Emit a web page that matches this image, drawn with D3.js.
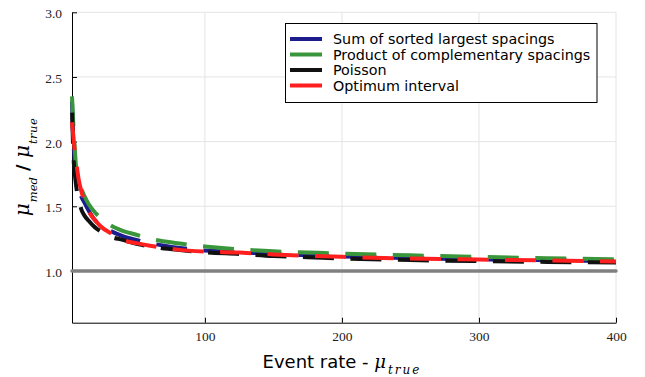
<!DOCTYPE html>
<html>
<head>
<meta charset="utf-8">
<script src="https://cdn.jsdelivr.net/npm/d3@7"></script>
<style>
  html, body { margin: 0; padding: 0; background: #fff; }
  svg { display: block; }
</style>
</head>
<body>
<svg id="chart" width="645" height="377"></svg>
<script>
// ---- data ----
const eventRates = [3, 4, 5, 6, 8, 10, 12, 15, 20, 25, 30, 40, 50, 60, 80, 100, 125, 150, 175, 200, 250, 300, 350, 400];
const sumSortedLargest = [2.31, 2.00, 1.86, 1.76, 1.63, 1.57, 1.53, 1.47, 1.39, 1.345, 1.315, 1.27, 1.24, 1.215, 1.18, 1.158, 1.145, 1.131, 1.121, 1.112, 1.099, 1.090, 1.083, 1.077];
const productComplementary = [2.35, 2.13, 1.95, 1.80, 1.70, 1.63, 1.58, 1.52, 1.45, 1.40, 1.36, 1.31, 1.28, 1.25, 1.215, 1.19, 1.167, 1.152, 1.143, 1.134, 1.121, 1.109, 1.099, 1.090];
const poisson = [2.26, 1.90, 1.76, 1.66, 1.55, 1.47, 1.43, 1.39, 1.335, 1.30, 1.27, 1.24, 1.21, 1.19, 1.163, 1.145, 1.132, 1.116, 1.107, 1.097, 1.084, 1.076, 1.070, 1.065];
const optimumInterval = [2.15, 2.04, 1.93, 1.85, 1.70, 1.61, 1.54, 1.465, 1.39, 1.335, 1.30, 1.24, 1.215, 1.195, 1.165, 1.15, 1.142, 1.128, 1.118, 1.109, 1.096, 1.088, 1.081, 1.074];
const seriesNames = ["Sum of sorted largest spacings", "Product of complementary spacings", "Poisson", "Optimum interval"];
const xTicks = [100, 200, 300, 400];
const yTicks = [1.0, 1.5, 2.0, 2.5, 3.0];
const referenceLevel = 1.0;

// ---- styles ----
const colors = ["#1c1c8c", "#3a963a", "#111111", "#ff1f1f"];
const dashAnchorsPx = [null, 203, 208, 220]; // where a dash should begin (styling)
const DASH = 31, GAP = 16.5;

const svg = d3.select("#chart");
const W = 645, H = 377;
const m = { left: 72, right: W - 616, top: 12.3, bottom: H - 322.7 };

const x = d3.scaleLinear().domain([3, 400]).range([m.left, W - m.right]);
const y = d3.scaleLinear().domain([0.6, 3.0]).range([H - m.bottom, m.top]);

// grid
const grid = svg.append("g").attr("stroke", "#e4e4e4").attr("stroke-width", 1);
xTicks.forEach(t => grid.append("line").attr("x1", x(t)).attr("x2", x(t)).attr("y1", y(0.6)).attr("y2", y(3.0)));
yTicks.forEach(t => grid.append("line").attr("x1", x(3)).attr("x2", x(400)).attr("y1", y(t)).attr("y2", y(t)));

// axes
const tickFont = "'Liberation Serif', 'DejaVu Serif', serif";
const xAxis = d3.axisBottom(x).tickValues(xTicks).tickSizeInner(-5).tickSizeOuter(0).tickPadding(9).tickFormat(d3.format("d"));
const gx = svg.append("g").attr("transform", `translate(0,${y(0.6)})`).call(xAxis);
const yAxis = d3.axisLeft(y).tickValues(yTicks).tickSizeInner(-5).tickSizeOuter(0).tickPadding(10).tickFormat(d3.format(".1f"));
const gy = svg.append("g").attr("transform", `translate(${x(3)},0)`).call(yAxis);
[gx, gy].forEach(g => {
  g.attr("font-family", null).attr("font-size", null);
  g.select(".domain").attr("stroke", "#000").attr("stroke-width", 1);
  g.selectAll(".tick line").attr("stroke", "#000");
  g.selectAll(".tick text").style("font-family", tickFont).style("font-size", "13.5px").attr("fill", "#222");
});
gy.selectAll(".tick text").attr("dy", "0.4em");

// reference line
svg.append("line")
  .attr("x1", x(3)).attr("x2", x(400)).attr("y1", y(referenceLevel)).attr("y2", y(referenceLevel))
  .attr("stroke", "#808080").attr("stroke-width", 3.5).attr("stroke-linecap", "round");

// series
const allSeries = [sumSortedLargest, productComplementary, poisson, optimumInterval];
const line = d3.line().x(d => x(d[0])).y(d => y(d[1])).curve(d3.curveMonotoneX);
allSeries.forEach((vals, i) => {
  const pts = eventRates.map((r, k) => [r, vals[k]]);
  const p = svg.append("path")
    .attr("d", line(pts))
    .attr("fill", "none")
    .attr("stroke", colors[i])
    .attr("stroke-width", 4)
    .attr("stroke-dasharray", `${DASH},${GAP}`);
  const anchor = dashAnchorsPx[i];
  if (anchor != null) {
    const node = p.node();
    const total = node.getTotalLength();
    let lo = 0, hi = total;
    for (let it = 0; it < 40; it++) {
      const mid = (lo + hi) / 2;
      if (node.getPointAtLength(mid).x < anchor) lo = mid; else hi = mid;
    }
    const P = DASH + GAP;
    const off = (P - (lo % P)) % P;
    p.attr("stroke-dashoffset", off);
  }
});

// legend
const lg = svg.append("g");
lg.append("rect").attr("x", 285.5).attr("y", 23.5).attr("width", 311.5).attr("height", 79)
  .attr("fill", "#fff").attr("stroke", "#000").attr("stroke-width", 1);
const rowsY = [39, 54.5, 70, 85.5];
seriesNames.forEach((name, i) => {
  lg.append("line").attr("x1", 290).attr("x2", 322).attr("y1", rowsY[i]).attr("y2", rowsY[i])
    .attr("stroke", colors[i]).attr("stroke-width", 4);
  lg.append("text").attr("x", 333).attr("y", rowsY[i]).attr("dy", "0.36em")
    .style("font-family", "'DejaVu Sans', sans-serif").style("font-size", "14.3px").attr("fill", "#000")
    .text(name);
});

// x label
const mathFont = "'DejaVu Serif', 'Liberation Serif', serif";
const xl = svg.append("text").attr("x", 342).attr("y", 368).attr("text-anchor", "middle");
xl.append("tspan").style("font-family", "'DejaVu Sans', sans-serif").style("font-size", "18px").text("Event rate - ");
xl.append("tspan").style("font-family", mathFont).style("font-style", "italic").style("font-size", "18px").text("μ");
xl.append("tspan").style("font-family", mathFont).style("font-style", "italic").style("font-size", "12px")
  .style("letter-spacing", "2px").attr("dy", 5.5).attr("dx", 2).text("true");

// y label
const yl = svg.append("text").attr("transform", `translate(28.5,167) rotate(-90)`).attr("text-anchor", "middle");
yl.append("tspan").style("font-family", mathFont).style("font-style", "italic").style("font-size", "20px").text("μ");
yl.append("tspan").style("font-family", mathFont).style("font-style", "italic").style("font-size", "11.5px").attr("dy", 8).attr("dx", 1).text("med");
yl.append("tspan").style("font-family", "'DejaVu Sans', sans-serif").style("font-size", "18px").style("font-weight", "bold").attr("dy", -8).text(" / ");
yl.append("tspan").style("font-family", mathFont).style("font-style", "italic").style("font-size", "20px").text("μ");
yl.append("tspan").style("font-family", mathFont).style("font-style", "italic").style("font-size", "11.5px").style("letter-spacing", "0.5px").attr("dy", 8).attr("dx", 1).text("true");
</script>
</body>
</html>
